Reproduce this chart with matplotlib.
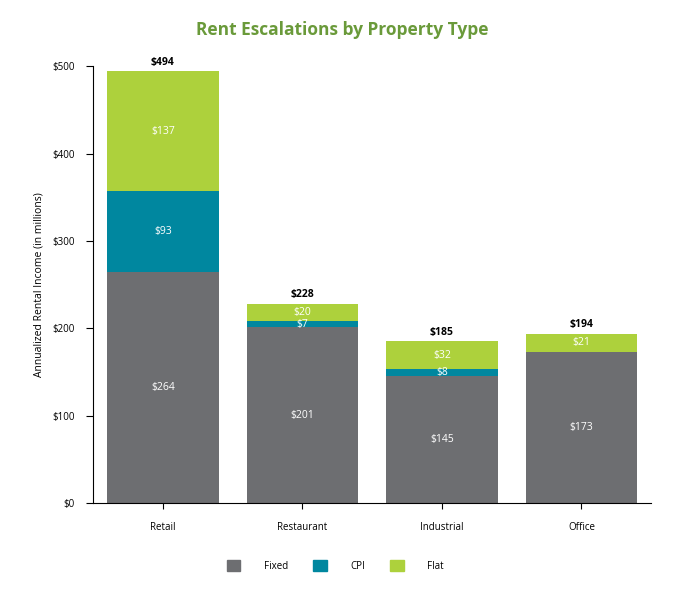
import matplotlib.pyplot as plt
from matplotlib.patches import Patch

plt.rcParams['font.family'] = ['Open Sans', 'DejaVu Sans']

categories = ['Retail', 'Restaurant', 'Industrial', 'Office']
fixed = [264, 201, 145, 173]
cpi = [93, 7, 8, 0]
flat = [137, 20, 32, 21]
totals = [494, 228, 185, 194]
yticks = [0, 100, 200, 300, 400, 500]

c_fixed = '#6d6e71'
c_cpi = '#00879f'
c_flat = '#add13c'

fig = plt.figure(figsize=(6.84, 6.02), dpi=100)
ax = fig.add_axes([0.136, 0.1645, 0.816, 0.7255])

x = range(len(categories))
w = 0.8
ax.bar(x, fixed, w, color=c_fixed, label='Fixed')
ax.bar(x, cpi, w, bottom=fixed, color=c_cpi, label='CPI')
bottom2 = [f + c for f, c in zip(fixed, cpi)]
ax.bar(x, flat, w, bottom=bottom2, color=c_flat, label='Flat')

for i in x:
    ax.text(i, fixed[i] / 2, f'${fixed[i]}', ha='center', va='center', color='white', fontsize=7.5)
    if cpi[i] > 0:
        ax.text(i, fixed[i] + cpi[i] / 2, f'${cpi[i]}', ha='center', va='center', color='white', fontsize=7.5)
    ax.text(i, bottom2[i] + flat[i] / 2, f'${flat[i]}', ha='center', va='center', color='white', fontsize=7.5)
    ax.text(i, totals[i] + 4, f'${totals[i]}', ha='center', va='bottom', color='black', fontsize=7.5,
            fontweight='bold')

ax.set_xlim(-0.5, 3.5)
ax.set_ylim(0, 500)
ax.set_yticks(yticks)
ax.set_yticklabels([f'${t}' for t in yticks], fontsize=7)
ax.set_xticks(list(x))
ax.set_xticklabels(categories, fontsize=7)
ax.tick_params(axis='x', length=4, pad=10)
ax.tick_params(axis='y', length=5, pad=8)
ax.spines['top'].set_visible(False)
ax.spines['right'].set_visible(False)
ax.set_ylabel('Annualized Rental Income (in millions)', fontsize=7.5, labelpad=6)

fig.suptitle('Rent Escalations by Property Type', x=0.5, y=0.965, fontsize=12.5,
             fontweight='bold', color='#6a9a3a')

handles = [Patch(color=c_fixed), Patch(color=c_cpi), Patch(color=c_flat)]
fig.legend(handles, ['Fixed', 'CPI', 'Flat'], loc='center', bbox_to_anchor=(0.49, 0.06),
           ncol=3, frameon=False, fontsize=7, handlelength=1.4, handleheight=1.4,
           handletextpad=2.4, columnspacing=2.6)

fig.savefig('out.png', dpi=100)
